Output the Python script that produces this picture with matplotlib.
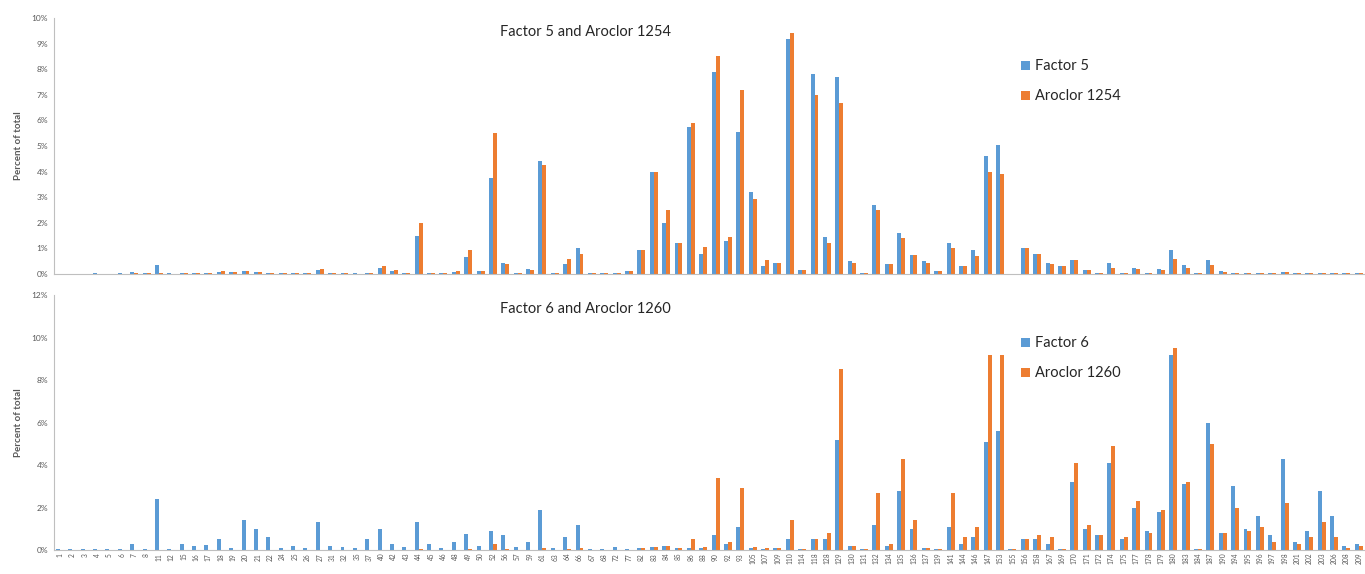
import numpy as np
import matplotlib.pyplot as plt
from matplotlib.ticker import PercentFormatter

plt.rcParams['font.family'] = ['Lato', 'DejaVu Sans']

# PCB congener labels (x axis)
congeners = [1, 2, 3, 4, 5, 6, 7, 8, 11, 12, 15, 16, 17, 18, 19, 20, 21, 22, 24, 25,
             26, 27, 31, 32, 35, 37, 40, 42, 43, 44, 45, 46, 48, 49, 50, 52, 56, 57, 59, 61,
             63, 64, 66, 67, 68, 72, 77, 82, 83, 84, 85, 86, 88, 90, 92, 93, 105, 107, 109, 110,
             114, 118, 128, 129, 130, 131, 132, 134, 135, 136, 137, 139, 141, 144, 146, 147, 153, 155, 156, 158,
             167, 169, 170, 171, 172, 174, 175, 177, 178, 179, 180, 183, 184, 187, 190, 194, 195, 196, 197, 198,
             201, 202, 203, 206, 208, 209]

# top panel (percent of total)
factor5 = [0.02, 0.02, 0.02, 0.03, 0.02, 0.03, 0.06, 0.04, 0.35, 0.03,
           0.04, 0.04, 0.05, 0.08, 0.06, 0.10, 0.08, 0.05, 0.04, 0.03,
           0.03, 0.15, 0.04, 0.03, 0.03, 0.05, 0.25, 0.10, 0.05, 1.50,
           0.05, 0.04, 0.08, 0.65, 0.10, 3.75, 0.45, 0.05, 0.20, 4.40,
           0.05, 0.40, 1.00, 0.05, 0.04, 0.05, 0.10, 0.95, 4.00, 2.00,
           1.20, 5.75, 0.80, 7.90, 1.30, 5.55, 3.20, 0.30, 0.45, 9.20,
           0.15, 7.80, 1.45, 7.70, 0.50, 0.05, 2.70, 0.40, 1.60, 0.75,
           0.50, 0.10, 1.20, 0.30, 0.95, 4.60, 5.05, 0.02, 1.00, 0.80,
           0.45, 0.30, 0.55, 0.15, 0.05, 0.45, 0.05, 0.25, 0.05, 0.20,
           0.95, 0.35, 0.05, 0.55, 0.10, 0.05, 0.04, 0.05, 0.03, 0.08,
           0.03, 0.03, 0.05, 0.03, 0.03, 0.03]
aroclor1254 = [0.02, 0.01, 0.02, 0.02, 0.02, 0.02, 0.04, 0.03, 0.03, 0.02,
               0.03, 0.04, 0.05, 0.10, 0.06, 0.10, 0.08, 0.05, 0.04, 0.03,
               0.03, 0.20, 0.04, 0.03, 0.02, 0.05, 0.30, 0.15, 0.05, 2.00,
               0.05, 0.04, 0.10, 0.95, 0.10, 5.50, 0.40, 0.04, 0.15, 4.25,
               0.05, 0.60, 0.80, 0.05, 0.04, 0.05, 0.10, 0.95, 4.00, 2.50,
               1.20, 5.90, 1.05, 8.50, 1.45, 7.20, 2.95, 0.55, 0.45, 9.40,
               0.15, 7.00, 1.20, 6.70, 0.45, 0.05, 2.50, 0.40, 1.40, 0.75,
               0.45, 0.10, 1.00, 0.30, 0.70, 4.00, 3.90, 0.02, 1.00, 0.80,
               0.40, 0.30, 0.55, 0.15, 0.05, 0.25, 0.05, 0.20, 0.05, 0.15,
               0.60, 0.25, 0.05, 0.35, 0.08, 0.05, 0.03, 0.04, 0.03, 0.06,
               0.03, 0.03, 0.05, 0.03, 0.03, 0.03]

# bottom panel
factor6 = [0.03, 0.03, 0.03, 0.04, 0.03, 0.04, 0.30, 0.05, 2.40, 0.05,
           0.30, 0.20, 0.25, 0.50, 0.10, 1.40, 1.00, 0.60, 0.10, 0.20,
           0.10, 1.30, 0.20, 0.15, 0.10, 0.50, 1.00, 0.30, 0.15, 1.30,
           0.30, 0.10, 0.40, 0.75, 0.20, 0.90, 0.70, 0.15, 0.40, 1.90,
           0.10, 0.60, 1.20, 0.05, 0.05, 0.15, 0.05, 0.10, 0.15, 0.20,
           0.10, 0.10, 0.10, 0.70, 0.30, 1.10, 0.10, 0.05, 0.10, 0.50,
           0.05, 0.50, 0.50, 5.20, 0.20, 0.05, 1.20, 0.20, 2.80, 1.00,
           0.10, 0.05, 1.10, 0.30, 0.60, 5.10, 5.60, 0.05, 0.50, 0.50,
           0.30, 0.05, 3.20, 1.00, 0.70, 4.10, 0.50, 2.00, 0.90, 1.80,
           9.20, 3.10, 0.05, 6.00, 0.80, 3.00, 1.00, 1.60, 0.70, 4.30,
           0.40, 0.90, 2.80, 1.60, 0.20, 0.30]
aroclor1260 = [0.0, 0.0, 0.0, 0.0, 0.0, 0.0, 0.0, 0.0, 0.0, 0.0,
               0.0, 0.0, 0.0, 0.0, 0.0, 0.02, 0.0, 0.0, 0.0, 0.0,
               0.0, 0.02, 0.0, 0.0, 0.0, 0.0, 0.02, 0.0, 0.0, 0.05,
               0.0, 0.0, 0.02, 0.05, 0.0, 0.30, 0.05, 0.0, 0.02, 0.10,
               0.0, 0.05, 0.10, 0.0, 0.0, 0.02, 0.02, 0.10, 0.15, 0.20,
               0.10, 0.50, 0.15, 3.40, 0.40, 2.90, 0.15, 0.10, 0.10, 1.40,
               0.05, 0.50, 0.80, 8.50, 0.20, 0.05, 2.70, 0.30, 4.30, 1.40,
               0.10, 0.05, 2.70, 0.60, 1.10, 9.20, 9.20, 0.05, 0.50, 0.70,
               0.60, 0.05, 4.10, 1.20, 0.70, 4.90, 0.60, 2.30, 0.80, 1.90,
               9.50, 3.20, 0.05, 5.00, 0.80, 2.00, 0.90, 1.10, 0.40, 2.20,
               0.30, 0.60, 1.30, 0.60, 0.10, 0.20]

blue = '#5B9BD5'
orange = '#ED7D31'
grey = '#595959'

x = np.arange(len(congeners))
w = 0.32

fig = plt.figure(figsize=(13.65, 5.74), dpi=100)
ax1 = fig.add_axes([0.0394, 0.5226, 0.9606, 0.446])
ax2 = fig.add_axes([0.0394, 0.0418, 0.9606, 0.444])


def panel(ax, s1, s2, n1, n2, ymax, step, title):
    ax.bar(x - w / 2, s1, w, color=blue, label=n1)
    ax.bar(x + w / 2, s2, w, color=orange, label=n2)
    ax.set_xlim(-0.5, len(congeners) - 0.5)
    ax.set_ylim(0, ymax)
    ax.set_yticks(np.arange(0, ymax + 0.1, step))
    ax.yaxis.set_major_formatter(PercentFormatter(decimals=0))
    ax.tick_params(axis='y', labelsize=6, colors=grey, length=0, pad=4)
    for side in ['top', 'right']:
        ax.spines[side].set_visible(False)
    ax.spines['left'].set_color('#BFBFBF')
    ax.spines['bottom'].set_color('#BFBFBF')
    ax.set_ylabel('Percent of total', fontsize=7, color=grey, fontweight='bold', labelpad=6)
    ax.text(0.340, 0.93, title, transform=ax.transAxes, fontsize=10.5, color='#262626')
    ax.legend(loc='upper left', bbox_to_anchor=(0.728, 0.89), frameon=False, fontsize=10.5,
              handlelength=0.6, handleheight=0.6, handletextpad=0.3, labelspacing=1.1,
              labelcolor='#262626')


panel(ax1, factor5, aroclor1254, 'Factor 5', 'Aroclor 1254', 10, 1, 'Factor 5 and Aroclor 1254')
panel(ax2, factor6, aroclor1260, 'Factor 6', 'Aroclor 1260', 12, 2, 'Factor 6 and Aroclor 1260')

ax1.set_xticks(x)
ax1.tick_params(axis='x', length=0, labelbottom=False)
ax2.set_xticks(x)
ax2.set_xticklabels(congeners, rotation=90, fontsize=4.8, color=grey)
ax2.tick_params(axis='x', length=0, pad=2)

fig.savefig('out.png', dpi=100)
